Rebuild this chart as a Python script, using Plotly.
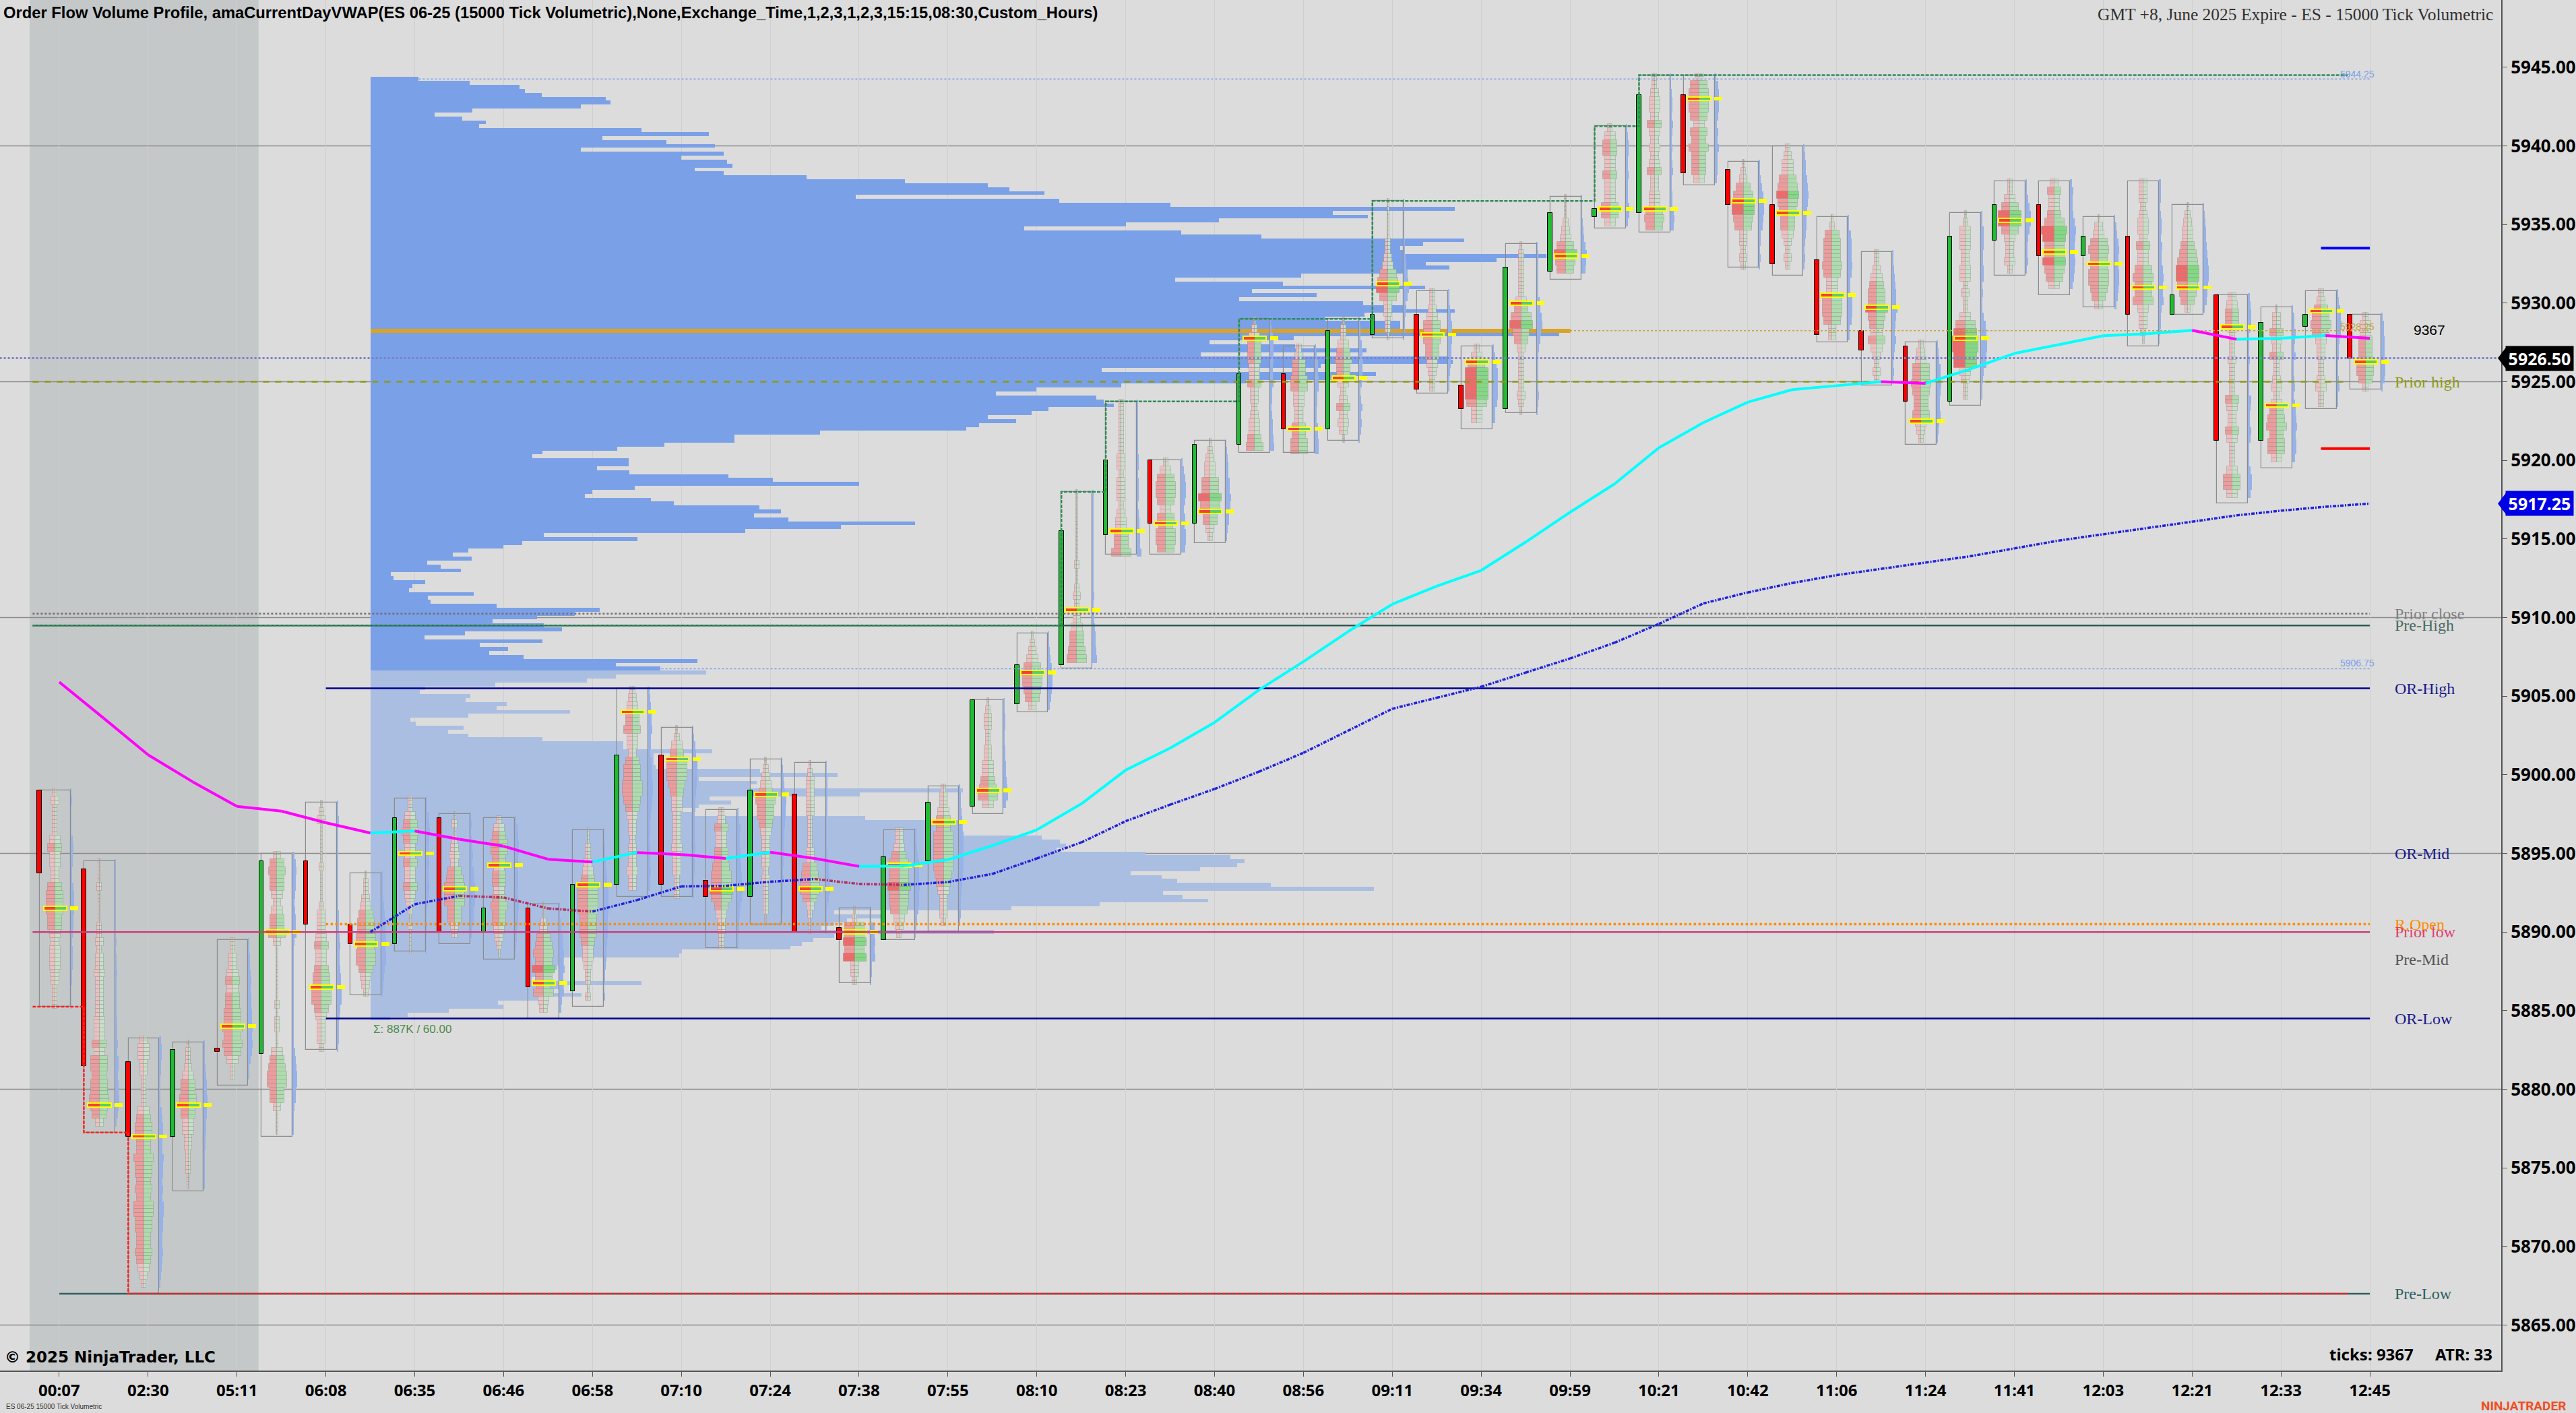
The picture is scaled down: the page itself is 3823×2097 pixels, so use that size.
import numpy as np
import plotly.graph_objects as go

# x axis: one slot per bar, a time label every second bar
TIME_LABELS = ['00:07', '02:30', '05:11', '06:08', '06:35', '06:46', '06:58', '07:10', '07:24',
               '07:38', '07:55', '08:10', '08:23', '08:40', '08:56', '09:11', '09:34', '09:59',
               '10:21', '10:42', '11:06', '11:24', '11:41', '12:03', '12:21', '12:33', '12:45']

BAR_HIGH = [5899, 5894.5, 5883.25, 5883, 5889.5, 5895, 5898.25, 5893.75, 5898.5, 5897.5, 5897.25, 5891.75,
            5896.5, 5905.5, 5903, 5897.75, 5901, 5900.75, 5891.5, 5896.5, 5899.25, 5904.75, 5909, 5918,
            5923.75, 5920, 5921.25, 5929, 5927.25, 5929, 5936.5, 5930.75, 5927.25, 5933.75, 5936.75, 5941.25,
            5944.5, 5944.5, 5939, 5940, 5935.5, 5933.25, 5927.5, 5935.75, 5937.75, 5937.75, 5935.5, 5937.75,
            5936.25, 5930.5, 5929.75, 5930.75, 5929.25]
BAR_LOW = [5885.25, 5877.25, 5867, 5873.5, 5880.25, 5877, 5882.5, 5886, 5888.75, 5889.25, 5888.25, 5884.5,
           5885.25, 5892.25, 5892.25, 5889, 5890.5, 5890, 5886.75, 5889.5, 5890, 5897.5, 5904, 5906.75,
           5914, 5914, 5914.75, 5920.5, 5920.5, 5921.25, 5927.75, 5924.25, 5922, 5923, 5931.5, 5934.75,
           5934.5, 5937.5, 5932.25, 5931.75, 5927.5, 5924.75, 5921, 5923.5, 5931.75, 5930.5, 5929.75, 5927.25,
           5929.25, 5917.25, 5919.5, 5923.25, 5924.5]
BAR_OPEN = [5899, 5894, 5881.75, 5877, 5882.6, 5882.25, 5894.5, 5890.5, 5889.25, 5897.25, 5890, 5891.5,
            5886.25, 5893, 5901.25, 5893.25, 5892.25, 5898.75, 5890.25, 5889.5, 5894.5, 5898, 5904.5, 5907,
            5915.25, 5920, 5916, 5921, 5925.5, 5922, 5928, 5929.25, 5924.75, 5923.25, 5932, 5935.5,
            5935.75, 5943.25, 5938.5, 5936.25, 5932.75, 5928.25, 5927.25, 5923.75, 5934, 5936.25, 5933, 5934.25,
            5929.25, 5930.5, 5921.25, 5928.5, 5929.25]
BAR_CLOSE = [5893.75, 5881.5, 5877, 5882.5, 5882.4, 5894.5, 5890.5, 5889.25, 5897.25, 5890, 5891.5, 5886.5,
             5893, 5901.25, 5893, 5892.25, 5899, 5890, 5889.5, 5894.75, 5898.25, 5904.75, 5907, 5915.5,
             5920, 5916, 5921, 5925.5, 5922, 5928.25, 5929.25, 5924.5, 5923.25, 5932.25, 5935.75, 5936,
             5943.25, 5938.25, 5936.25, 5932.5, 5928, 5927, 5923.75, 5934.25, 5936.25, 5933, 5934.25, 5929.25,
             5930.5, 5921.25, 5928.75, 5929.25, 5926.5]
BAR_POC = [5891.5, 5879, 5877, 5879, 5884, 5890, 5886.5, 5889.25, 5895, 5892.75, 5894.25, 5886.75,
           5893, 5904, 5901, 5892.75, 5898.75, 5892.75, 5890, 5894.25, 5897, 5899, 5906.5, 5910.5,
           5915.5, 5916, 5916.75, 5927.75, 5922, 5925.25, 5931.25, 5928, 5926.25, 5930, 5933, 5936,
           5936, 5943, 5936.5, 5935.75, 5930.5, 5929.75, 5922.5, 5927.75, 5935.25, 5933.25, 5932.5, 5931,
           5931, 5928.5, 5923.5, 5929.5, 5926.25]

# footprint width per half point, top of the bar downwards (0 thin .. 9 wide)
FOOTPRINT = ['1211113433224555443233322111', '00010000112122322222333435545565421',
             '23322111134554465545466554454321', '0112344544332211100', '112234344556565311',
             '245443234452000000010110034566442000', '01200000100001222343345566432221', '0112345565664321',
             '11345433433432101000', '01012324566644210', '134554344345443210', '001245657546321',
             '00112346666555433211010', '123445332455665432212223221', '0134666543322223222111', '124334456676432211',
             '012346554322221211110', '0122222111122456642100', '0166767221', '22346667665321',
             '1223446666654322211', '012211223345632', '0123566542', '00000000010012122344565',
             '11111112212221233446', '135665354665', '0123355764421', '01344433422123345',
             '12445533224455', '0113454431242320', '000001123567522110', '1123555443211',
             '13577776332', '0111111346754211111210', '00012357653', '1344334333553',
             '11233243232342233565', '25666535464443', '01246776522121', '12335676544321211',
             '0145556533666522', '11234557543532121', '1235565445321', '0133322331211367887732111',
             '113577532231', '243346876676531', '023565566542', '222123324335655632210',
             '01233456776541', '234421112111143224311135531', '022432411231345645531', '124565322112311',
             '1334445541']

# session volume profile, one row per quarter point from the top row down
UPPER_TOP = 5944.25
UPPER_VOL = [71, 147, 221, 229, 254, 349, 356, 312, 151, 95,
             136, 171, 161, 403, 503, 344, 440, 512, 312, 525,
             462, 530, 538, 482, 525, 648, 794, 917, 949, 1001,
             721, 1023, 1188, 1610, 1429, 1481, 1260, 1122, 971, 1204,
             1323, 1624, 1563, 1529, 1535, 1746, 1672, 1567, 1602, 1535,
             1382, 1195, 1355, 1566, 1309, 1405, 1290, 1474, 1538, 1610,
             1476, 1418, 1529, 1529, 1782, 1765, 1371, 1246, 1373, 1479,
             1233, 1599, 1607, 1411, 1086, 1493, 1430, 1300, 1115, 989,
             929, 1078, 1089, 1104, 1007, 982, 917, 959, 904, 885,
             668, 541, 541, 437, 366, 255, 240, 383, 383, 336,
             384, 532, 598, 726, 393, 329, 318, 417, 451, 578,
             610, 570, 621, 809, 699, 557, 257, 397, 225, 197,
             145, 122, 150, 84, 104, 134, 30, 34, 81, 62,
             57, 153, 85, 89, 187, 340, 303, 247, 181, 257,
             284, 140, 80, 255, 162, 204, 176, 227, 486, 364,
             431]
LOWER_TOP = 5906.5
LOWER_VOL = [499, 364, 321, 185, 81, 73, 148, 141, 202, 187,
             296, 145, 59, 67, 138, 115, 145, 255, 375, 375,
             508, 421, 421, 421, 424, 579, 694, 488, 574, 565,
             880, 727, 504, 536, 488, 455, 478, 735, 880, 880,
             880, 880, 997, 1024, 1033, 1019, 1151, 1277, 1298, 1287,
             1232, 1129, 1175, 1198, 1337, 1490, 1177, 1206, 1244, 1083,
             952, 689, 765, 708, 689, 670, 926, 689, 658, 641,
             624, 463, 459, 287, 287, 277, 258, 254, 239, 403,
             287, 258, 313, 249, 189, 197, 116, 55, 29]
PROFILE_POC = 5928.25

VWAP = [5905.9, 5903.6, 5901.27, 5899.56, 5897.99, 5897.69, 5896.95, 5896.3, 5896.43, 5895.9, 5895.46, 5894.63,
        5894.46, 5895.06, 5894.93, 5894.68, 5895.08, 5894.68, 5894.18, 5894.2, 5894.6, 5895.5, 5896.5, 5898.15,
        5900.3, 5901.7, 5903.33, 5905.4, 5907.2, 5909.1, 5910.85, 5912, 5913, 5914.8, 5916.7, 5918.5,
        5920.8, 5922.4, 5923.7, 5924.5, 5924.75, 5925, 5924.9, 5925.8, 5926.8, 5927.36, 5927.93, 5928.06,
        5928.27, 5927.7, 5927.77, 5927.94, 5927.77]
# second line only starts at the eighth bar
VWAP2_FIRST = 7
VWAP2 = [5890, 5891.77, 5892.3, 5892.2, 5891.5, 5891.3, 5892.03, 5892.9, 5892.94, 5893.2, 5893.37, 5893.06,
         5893, 5893.18, 5893.7, 5894.68, 5895.7, 5897.05, 5898.1, 5899.1, 5900.2, 5901.4, 5902.8, 5904.2,
         5904.9, 5905.6, 5906.5, 5907.4, 5908.4, 5909.6, 5910.9, 5911.6, 5912.2, 5912.7, 5913.1, 5913.5,
         5913.9, 5914.4, 5914.9, 5915.3, 5915.7, 5916.1, 5916.5, 5916.8, 5917.05, 5917.25]

# running high and low steps: bar where the step sits, price it steps to
HIGH_STEP_BARS = [23, 24, 27, 30, 35, 36, 52]
HIGH_STEP_PRICES = [5909.5, 5918, 5923.75, 5929, 5936.5, 5941.25, 5944.5]
LOW_STEP_BARS = [0, 1, 2, 52]
LOW_STEP_PRICES = [5885.25, 5877.25, 5867, 5867]

LAST_PRICE = 5926.5
VWAP2_LAST = 5917.25
GRID_PRICES = [5865, 5880, 5895, 5910, 5925, 5940]

# name, price, first bar, last bar, colour, dash, width
LEVELS = [('Pre-Low', 5867, 0, 52, '#2f5f5f', 'solid', 2.5),
          ('Prior close', 5910.25, -0.6, 52, '#707070', 'dot', 2.5),
          ('Pre-High', 5909.5, -0.6, 52, '#2f5a50', 'solid', 2.5),
          ('OR-High', 5905.5, 6, 52, '#00008b', 'solid', 2.5),
          ('OR-Low', 5884.5, 6, 52, '#00008b', 'solid', 2.5),
          ('Prior low', 5890, -0.6, 52, '#c8407f', 'solid', 2.5),
          ('R.Open', 5890.5, 6, 52, '#ff8c00', 'dot', 3.5),
          ('Prior high', 5925, -0.6, 51.5, '#8f9a10', 'dash', 2.5)]
LABELS = [('Prior high', 5925, '#8f9a10'), ('Prior close', 5910.25, '#808080'), ('Pre-High', 5909.5, '#4a6a60'),
          ('OR-High', 5905.5, '#1a1a8b'), ('OR-Mid', 5895, '#1a1a8b'), ('R.Open', 5890.5, '#ff8c00'),
          ('Prior low', 5890, '#e04070'), ('Pre-Mid', 5888.25, '#555555'), ('OR-Low', 5884.5, '#1a1a8b'),
          ('Pre-Low', 5867, '#2f5f5f')]

PX = 1 / 65.98  # one screen pixel in bar units
n_bars = len(BAR_HIGH)
bars = np.arange(n_bars)
candle_x = bars - 0.447
box_mid = bars - 0.095
box_right = bars + 0.25

fig = go.Figure()

# profiles
upper_y = UPPER_TOP - 0.25 * np.arange(len(UPPER_VOL))
lower_y = LOWER_TOP - 0.25 * np.arange(len(LOWER_VOL))
prof_base = (550 - 88) * PX
upper_colors = ['#daa326' if p == PROFILE_POC else '#7aa0e8' for p in upper_y]
fig.add_trace(go.Bar(y=upper_y, x=np.array(UPPER_VOL) * PX, base=prof_base, orientation='h', width=0.25,
                     marker=dict(color=upper_colors, line_width=0)))
fig.add_trace(go.Bar(y=lower_y, x=np.array(LOWER_VOL) * PX, base=prof_base, orientation='h', width=0.25,
                     marker=dict(color='#aabee2', line_width=0)))

# footprint rows
rows_y, rows_d, rows_mid, rows_side = [], [], [], []
for i in range(n_bars):
    n = int(round((BAR_HIGH[i] - BAR_LOW[i]) * 2))
    digits = FOOTPRINT[i][:n].ljust(n, '0')
    for k, ch in enumerate(digits):
        for part in (0, 1):
            rows_y.append(BAR_HIGH[i] - 0.25 * (2 * k + part))
            rows_d.append(int(ch))
            rows_mid.append(box_mid[i])
            rows_side.append(box_right[i])
rows_y = np.array(rows_y)
rows_d = np.array(rows_d)
rows_mid = np.array(rows_mid)
half = (1.5 + 2.2 * rows_d) * PX


def shade(d, low, mid, high):
    return low if d < 4 else (mid if d < 7 else high)


fig.add_trace(go.Bar(y=rows_y, x=(1 + 1.0 * rows_d) * PX, base=rows_side, orientation='h', width=0.25,
                     marker=dict(color='#97b2e8', line_width=0)))
fig.add_trace(go.Bar(y=rows_y, x=half, base=rows_mid - half, orientation='h', width=0.25,
                     marker=dict(color=[shade(d, '#ecc0c0', '#ec9c9c', '#f06a6a') for d in rows_d],
                                 line=dict(color='rgba(120,120,120,0.3)', width=1))))
fig.add_trace(go.Bar(y=rows_y, x=half, base=rows_mid, orientation='h', width=0.25,
                     marker=dict(color=[shade(d, '#c8dfc8', '#aedcae', '#84d884') for d in rows_d],
                                 line=dict(color='rgba(120,120,120,0.3)', width=1))))

# bar range boxes and candle bodies
fig.add_trace(go.Bar(x=bars - 0.095, base=BAR_LOW, y=np.array(BAR_HIGH) - np.array(BAR_LOW), width=0.695,
                     marker=dict(color='rgba(0,0,0,0)', line=dict(color='#8c8c8c', width=1.2))))
candle_colors = ['#22bb33' if c >= o else '#ff0000' for o, c in zip(BAR_OPEN, BAR_CLOSE)]
fig.add_trace(go.Bar(x=candle_x, base=np.minimum(BAR_OPEN, BAR_CLOSE),
                     y=np.abs(np.array(BAR_CLOSE) - np.array(BAR_OPEN)), width=0.1,
                     marker=dict(color=candle_colors, line=dict(color='black', width=1))))

# point of control per bar
fig.add_trace(go.Bar(y=BAR_POC, x=[0.26] * n_bars, base=box_mid - 0.26, orientation='h', width=0.25,
                     marker=dict(color='#f04040', line_width=0)))
fig.add_trace(go.Bar(y=BAR_POC, x=[0.26] * n_bars, base=box_mid, orientation='h', width=0.25,
                     marker=dict(color='#60c870', line_width=0)))
fig.add_trace(go.Bar(y=BAR_POC, x=[0.52] * n_bars, base=box_mid - 0.26, orientation='h', width=0.25,
                     marker=dict(color='rgba(0,0,0,0)', line=dict(color='#ffff00', width=2))))
fig.add_trace(go.Bar(y=BAR_POC, x=[0.18] * n_bars, base=box_right, orientation='h', width=0.25,
                     marker=dict(color='#ffff00', line_width=0)))

# level lines
for name, price, first, last, color, dash, width in LEVELS:
    fig.add_trace(go.Scatter(x=[first, last], y=[price, price], mode='lines',
                             line=dict(color=color, dash=dash, width=width)))
fig.add_trace(go.Scatter(x=[-1.34, 54.96], y=[LAST_PRICE, LAST_PRICE], mode='lines',
                         line=dict(color='#7c80d0', dash='dot', width=3)))
fig.add_trace(go.Scatter(x=[13.55, 52], y=[5906.75, 5906.75], mode='lines',
                         line=dict(color='#7aa0e8', dash='dot', width=1.5)))
fig.add_trace(go.Scatter(x=[8.09, 52], y=[UPPER_TOP, UPPER_TOP], mode='lines',
                         line=dict(color='#7aa0e8', dash='dot', width=1.5)))
fig.add_trace(go.Scatter(x=[34.0, 52], y=[PROFILE_POC, PROFILE_POC], mode='lines',
                         line=dict(color='#c8a040', dash='dot', width=1.5)))

# running high / low
fig.add_trace(go.Scatter(x=[-0.6] + [b - 0.447 for b in HIGH_STEP_BARS[:-1]] + [51.5],
                         y=[HIGH_STEP_PRICES[0]] + HIGH_STEP_PRICES, mode='lines',
                         line=dict(color='#2e8b57', dash='5px,2px', width=2.5, shape='vh')))
fig.add_trace(go.Scatter(x=[-0.6] + [b - 0.447 for b in LOW_STEP_BARS[1:-1]] + [51.5],
                         y=LOW_STEP_PRICES, mode='lines',
                         line=dict(color='#ff2020', dash='5px,2px', width=2.5, shape='hv')))

# short target marks on the last bars
fig.add_trace(go.Scatter(x=[50.9, 52], y=[5933.5, 5933.5], mode='lines', line=dict(color='#0000ff', width=4)))
fig.add_trace(go.Scatter(x=[50.9, 52], y=[5920.75, 5920.75], mode='lines', line=dict(color='#ff0000', width=4)))


def slope_lines(xs, ys, up, down, width, dash):
    xu, yu, xd, yd = [], [], [], []
    for a in range(len(ys) - 1):
        if ys[a + 1] >= ys[a]:
            xu += [xs[a], xs[a + 1], None]
            yu += [ys[a], ys[a + 1], None]
        else:
            xd += [xs[a], xs[a + 1], None]
            yd += [ys[a], ys[a + 1], None]
    fig.add_trace(go.Scatter(x=xu, y=yu, mode='lines', line=dict(color=up, width=width, dash=dash)))
    fig.add_trace(go.Scatter(x=xd, y=yd, mode='lines', line=dict(color=down, width=width, dash=dash)))


slope_lines(list(bars), VWAP, '#00ffff', '#ff00ff', 4, 'solid')
slope_lines(list(range(VWAP2_FIRST, VWAP2_FIRST + len(VWAP2))), VWAP2, '#2020e0', '#b03060', 3.5, '5px,2px,2px,2px')

annotations = []
for text, price, color in LABELS:
    annotations.append(dict(x=52.53, y=price, xref='x', yref='y', text=text, showarrow=False, xanchor='left',
                            font=dict(family='Liberation Serif', size=24, color=color)))


def corner(text, x, y, xanchor, family, size, color='black', weight=None):
    font = dict(family=family, size=size, color=color)
    if weight:
        font['weight'] = weight
    annotations.append(dict(x=x, y=y, xref='paper', yref='paper', text=text, showarrow=False, xanchor=xanchor,
                            yanchor='middle', font=font))


W, H = 3714.0, 2034.0
corner('Order Flow Volume Profile, amaCurrentDayVWAP(ES 06-25 (15000 Tick Volumetric),None,Exchange_Time,1,2,3,1,2,3,15:15,08:30,Custom_Hours)',
       3 / W, 1 - 18 / H, 'left', 'Liberation Sans', 23.75, weight='bold')
corner('GMT +8, June 2025 Expire - ES - 15000 Tick Volumetric', 3704 / W, 1 - 22 / H, 'right', 'Liberation Serif', 25.5, '#303030')
corner('© 2025 NinjaTrader, LLC', 5 / W, 1 - 2014 / H, 'left', 'DejaVu Sans', 23, weight='bold')
corner('ticks: 9367', 3586 / W, 1 - 2009 / H, 'right', 'Noto Sans', 24, weight='bold')
corner('ATR: 33', 3703 / W, 1 - 2009 / H, 'right', 'Noto Sans', 24, weight='bold')
corner('ES 06-25 15000 Tick Volumetric', 7 / W, 1 - 2087 / H, 'left', 'Liberation Sans', 10, '#303030')
corner('NINJATRADER', 3812 / W, 1 - 2086 / H, 'right', 'Roboto', 19, '#f04e23', 'bold')

annotations.append(dict(x=3607 / W, y=5928.3, xref='paper', yref='y', text='9367', showarrow=False, xanchor='center',
                        font=dict(family='Liberation Sans', size=21, color='black')))
annotations.append(dict(x=3500 / W, y=UPPER_TOP + 0.3, xref='paper', yref='y', text='5944.25', showarrow=False,
                        xanchor='center', font=dict(family='Liberation Sans', size=14, color='#7aa0e8')))
annotations.append(dict(x=3500 / W, y=5907.1, xref='paper', yref='y', text='5906.75', showarrow=False,
                        xanchor='center', font=dict(family='Liberation Sans', size=14, color='#7aa0e8')))
annotations.append(dict(x=3500 / W, y=PROFILE_POC + 0.25, xref='paper', yref='y', text='5928.25', showarrow=False,
                        xanchor='center', font=dict(family='Liberation Sans', size=14, color='#c8a040')))
annotations.append(dict(x=552 / W, y=5883.8, xref='paper', yref='y', xanchor='left', text='Σ: 887K / 60.00',
                        showarrow=False, font=dict(family='Liberation Sans', size=17, color='#4f8a4f')))

# price tags on the axis
for price, bg in ((LAST_PRICE, 'black'), (VWAP2_LAST, '#0000e6')):
    annotations.append(dict(x=3771 / W, y=price, xref='paper', yref='y', text=f'<b>{price:.2f}</b>', showarrow=False,
                            xanchor='center', font=dict(family='Noto Sans', size=25, color='white'), bgcolor=bg,
                            width=98, height=34))

shapes = [dict(type='rect', xref='x', yref='paper', x0=-0.667, x1=4.485, y0=0, y1=1,
               fillcolor='#c4c8c8', line_width=0, layer='below')]
for p in GRID_PRICES:
    shapes.append(dict(type='line', xref='paper', yref='y', x0=0, x1=1, y0=p, y1=p,
                       line=dict(color='#8c8c8c', width=1.5), layer='below'))
for price, bg in ((LAST_PRICE, 'black'), (VWAP2_LAST, '#0000e6')):
    shapes.append(dict(type='path', xref='paper', yref='y',
                       path=f'M {3709 / W},{price} L {3722 / W},{price + 0.73} L {3722 / W},{price - 0.73} Z',
                       fillcolor=bg, line_width=0, layer='above'))

fig.update_layout(
    width=3823, height=2097,
    margin=dict(l=0, r=109, t=0, b=63),
    paper_bgcolor='#dcdcdc', plot_bgcolor='#dcdcdc',
    barmode='overlay', bargap=0, showlegend=False,
    annotations=annotations, shapes=shapes,
    xaxis=dict(range=[-1.3337, 54.956], tickmode='array', tickvals=list(range(0, 2 * len(TIME_LABELS), 2)),
               ticktext=TIME_LABELS, showgrid=True, gridcolor='#cfcfcf', gridwidth=1, zeroline=False,
               ticks='outside', ticklen=7, tickcolor='#555555', showline=True, linecolor='#555555', linewidth=2,
               tickfont=dict(family='Noto Sans', size=24, color='black', weight='bold')),
    yaxis=dict(range=[5862.11, 5949.28], side='right', dtick=5, tick0=5865, tickformat='.2f', showgrid=False,
               zeroline=False, ticks='outside', ticklen=7, tickcolor='#555555', showline=True, linecolor='#555555',
               linewidth=2, tickfont=dict(family='Noto Sans', size=26, color='black', weight='bold')),
)

fig.write_html("out.html", config=dict(displayModeBar=False),
               post_script="document.body.style.margin='0';document.body.style.overflow='hidden';")
